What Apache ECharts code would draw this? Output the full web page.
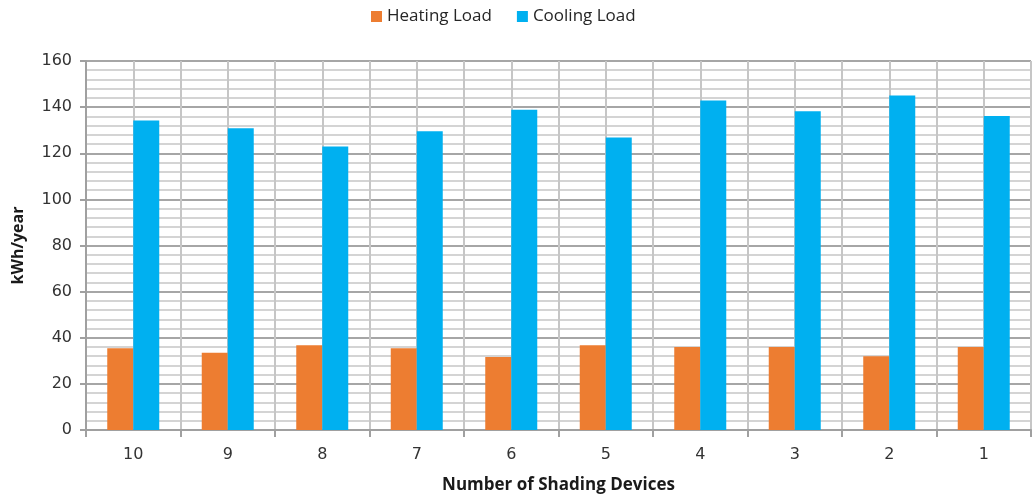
<!DOCTYPE html>
<html>
<head>
<meta charset="utf-8">
<script src="https://cdn.jsdelivr.net/npm/echarts@6/dist/echarts.min.js"></script>
<style>
  html, body { margin: 0; padding: 0; background: #fff; }
  #chart { width: 1033px; height: 499px; }
</style>
</head>
<body>
<div id="chart"></div>
<script>
// Annual loads per number of shading devices
const categories = ['10', '9', '8', '7', '6', '5', '4', '3', '2', '1'];
const heatingLoad = [35.5, 33.5, 36.7, 35.5, 31.6, 36.7, 36, 36, 32, 36];
const coolingLoad = [134.2, 130.8, 122.9, 129.5, 138.9, 126.8, 142.9, 138.2, 145, 136.2];
const yTicks = { min: 0, max: 160, interval: 20 };

const chart = echarts.init(document.getElementById('chart'), null, { renderer: 'canvas' });

const labelFont = 'Open Sans, DejaVu Sans, sans-serif';

chart.setOption({
  animation: false,
  backgroundColor: '#ffffff',
  legend: {
    top: 3,
    left: 366,
    itemWidth: 11,
    itemHeight: 11,
    itemGap: 25,
    icon: 'rect',
    textStyle: { fontFamily: labelFont, fontSize: 17, color: '#262626' },
    data: ['Heating Load', 'Cooling Load']
  },
  grid: { left: 86, right: 2, top: 61, bottom: 69, containLabel: false },
  xAxis: [
    {
      type: 'category',
      data: categories,
      name: 'Number of Shading Devices',
      nameLocation: 'middle',
      nameGap: 47,
      nameTextStyle: { fontFamily: labelFont, fontSize: 17, fontWeight: 'bold', color: '#1a1a1a' },
      axisLine: { show: true, lineStyle: { color: '#a0a0a0', width: 2 } },
      axisTick: { show: true, length: 7, lineStyle: { color: '#a0a0a0', width: 2 } },
      axisLabel: { margin: 17, fontFamily: 'DejaVu Sans, sans-serif', fontSize: 16, color: '#333333' },
      splitLine: { show: false }
    },
    {
      // half-category vertical grid lines
      type: 'value',
      min: 0,
      max: 20,
      interval: 1,
      show: true,
      position: 'top',
      axisLine: { show: false },
      axisTick: { show: false },
      axisLabel: { show: false },
      splitLine: { show: true, lineStyle: { color: '#c6c6c6', width: 2 } }
    }
  ],
  yAxis: {
    type: 'value',
    min: yTicks.min,
    max: yTicks.max,
    interval: yTicks.interval,
    name: 'kWh/year',
    nameLocation: 'middle',
    nameGap: 60,
    nameTextStyle: { fontFamily: labelFont, fontSize: 16, fontWeight: 'bold', color: '#1a1a1a' },
    axisLine: { show: true, lineStyle: { color: '#a0a0a0', width: 2 } },
    axisTick: { show: true, length: 6, lineStyle: { color: '#a0a0a0', width: 2 } },
    axisLabel: { margin: 14, fontFamily: 'DejaVu Sans, sans-serif', fontSize: 16, color: '#333333' },
    splitLine: { show: true, lineStyle: { color: '#a6a6a6', width: 2 } },
    minorTick: { show: false, splitNumber: 5 },
    minorSplitLine: { show: true, lineStyle: { color: '#d4d4d4', width: 2 } }
  },
  series: [
    {
      name: 'Heating Load',
      type: 'bar',
      xAxisIndex: 0,
      data: heatingLoad,
      barWidth: 26,
      barGap: '0%',
      itemStyle: { color: '#ED7D31' }
    },
    {
      name: 'Cooling Load',
      type: 'bar',
      xAxisIndex: 0,
      data: coolingLoad,
      barWidth: 26,
      barGap: '0%',
      itemStyle: { color: '#00B0F0' }
    }
  ]
});
</script>
</body>
</html>
